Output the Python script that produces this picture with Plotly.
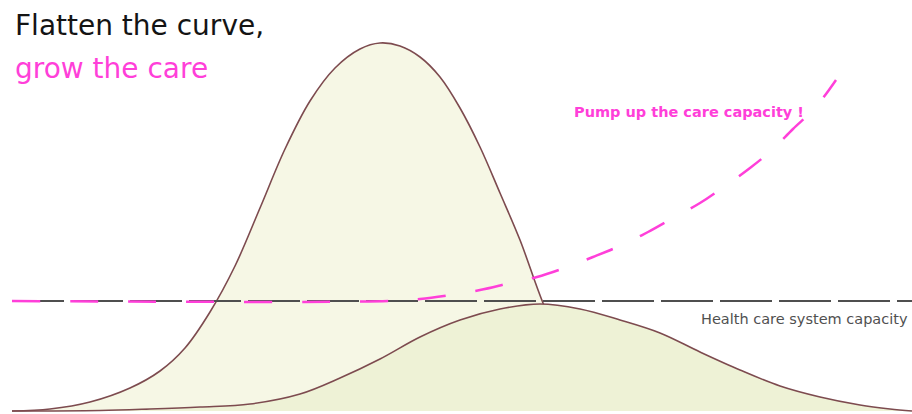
import plotly.graph_objects as go

# Unmitigated epidemic curve (tall)
tall_x = [12, 50, 90, 130, 160, 185, 210, 235, 260, 285, 310, 335, 360, 380, 400, 420, 440, 460, 480, 500, 520, 543, 565, 590, 615, 645]
tall_y = [0, 2, 9, 23, 40, 63, 99, 145, 203, 262, 310, 343, 362, 368, 365, 354, 334, 303, 264, 218, 171, 108, 60, 28, 10, 3]

# Flattened curve
flat_x = [12, 100, 150, 200, 250, 300, 340, 380, 420, 460, 500, 540, 580, 620, 660, 700, 740, 780, 820, 860, 890, 912]
flat_y = [0, 0.5, 2, 4, 7, 17, 33, 52, 74, 91, 102, 107, 102, 91, 78, 59, 41, 25, 14, 6, 2, 0]

# Health care system capacity (current)
cap_x = [12, 912]
cap_y = [110, 110]

# Pumped-up care capacity
pump_x = [12, 390, 420, 450, 480, 510, 537, 567, 593, 622, 648, 673, 700, 725, 750, 773, 793, 815, 836]
pump_y = [110, 110, 112, 116, 121, 128, 134, 144, 154, 166, 179, 193, 208, 225, 243, 262, 282, 303, 331]

title_line1 = "Flatten the curve,"
title_line2 = "grow the care"
pump_label = "Pump up the care capacity !"
cap_label = "Health care system capacity"

outline = "#7d4b4f"
magenta = "#ff3fd9"
font_family = "DejaVu Sans"

fig = go.Figure()
fig.add_trace(go.Scatter(x=tall_x, y=tall_y, mode="lines", line=dict(color=outline, width=1.6, shape="spline", smoothing=1),
                         fill="tozeroy", fillcolor="#f6f7e5", hoverinfo="skip"))
fig.add_trace(go.Scatter(x=flat_x, y=flat_y, mode="lines", line=dict(color=outline, width=1.6, shape="spline", smoothing=1),
                         fill="tozeroy", fillcolor="#eef2d6", hoverinfo="skip"))
fig.add_trace(go.Scatter(x=cap_x, y=cap_y, mode="lines", line=dict(color="#4f4f4f", width=2, dash="52px,7px"), hoverinfo="skip"))
fig.add_trace(go.Scatter(x=pump_x, y=pump_y, mode="lines", line=dict(color=magenta, width=2.5, dash="28px,30px", shape="spline", smoothing=1),
                         hoverinfo="skip"))

fig.add_annotation(x=13, y=386, xref="x", yref="y", text=title_line1, showarrow=False, xanchor="left", yanchor="middle",
                   font=dict(family=font_family, size=28, color="#141414"))
fig.add_annotation(x=13, y=343, xref="x", yref="y", text=title_line2, showarrow=False, xanchor="left", yanchor="middle",
                   font=dict(family=font_family, size=28, color=magenta))
fig.add_annotation(x=572, y=299, xref="x", yref="y", text="<b>" + pump_label + "</b>", showarrow=False, xanchor="left", yanchor="middle",
                   font=dict(family=font_family, size=14.5, color=magenta))
fig.add_annotation(x=910, y=92, xref="x", yref="y", text=cap_label, showarrow=False, xanchor="right", yanchor="middle",
                   font=dict(family=font_family, size=14.5, color="#505050"))

fig.update_layout(width=912, height=414, margin=dict(l=0, r=0, t=0, b=0), showlegend=False,
                  paper_bgcolor="white", plot_bgcolor="white")
fig.update_xaxes(range=[0, 912], visible=False, fixedrange=True)
fig.update_yaxes(range=[-3, 411], visible=False, fixedrange=True)

fig.write_html("out.html", config={"displayModeBar": False},
               post_script="document.body.style.margin='0px';document.body.style.overflow='hidden';")
